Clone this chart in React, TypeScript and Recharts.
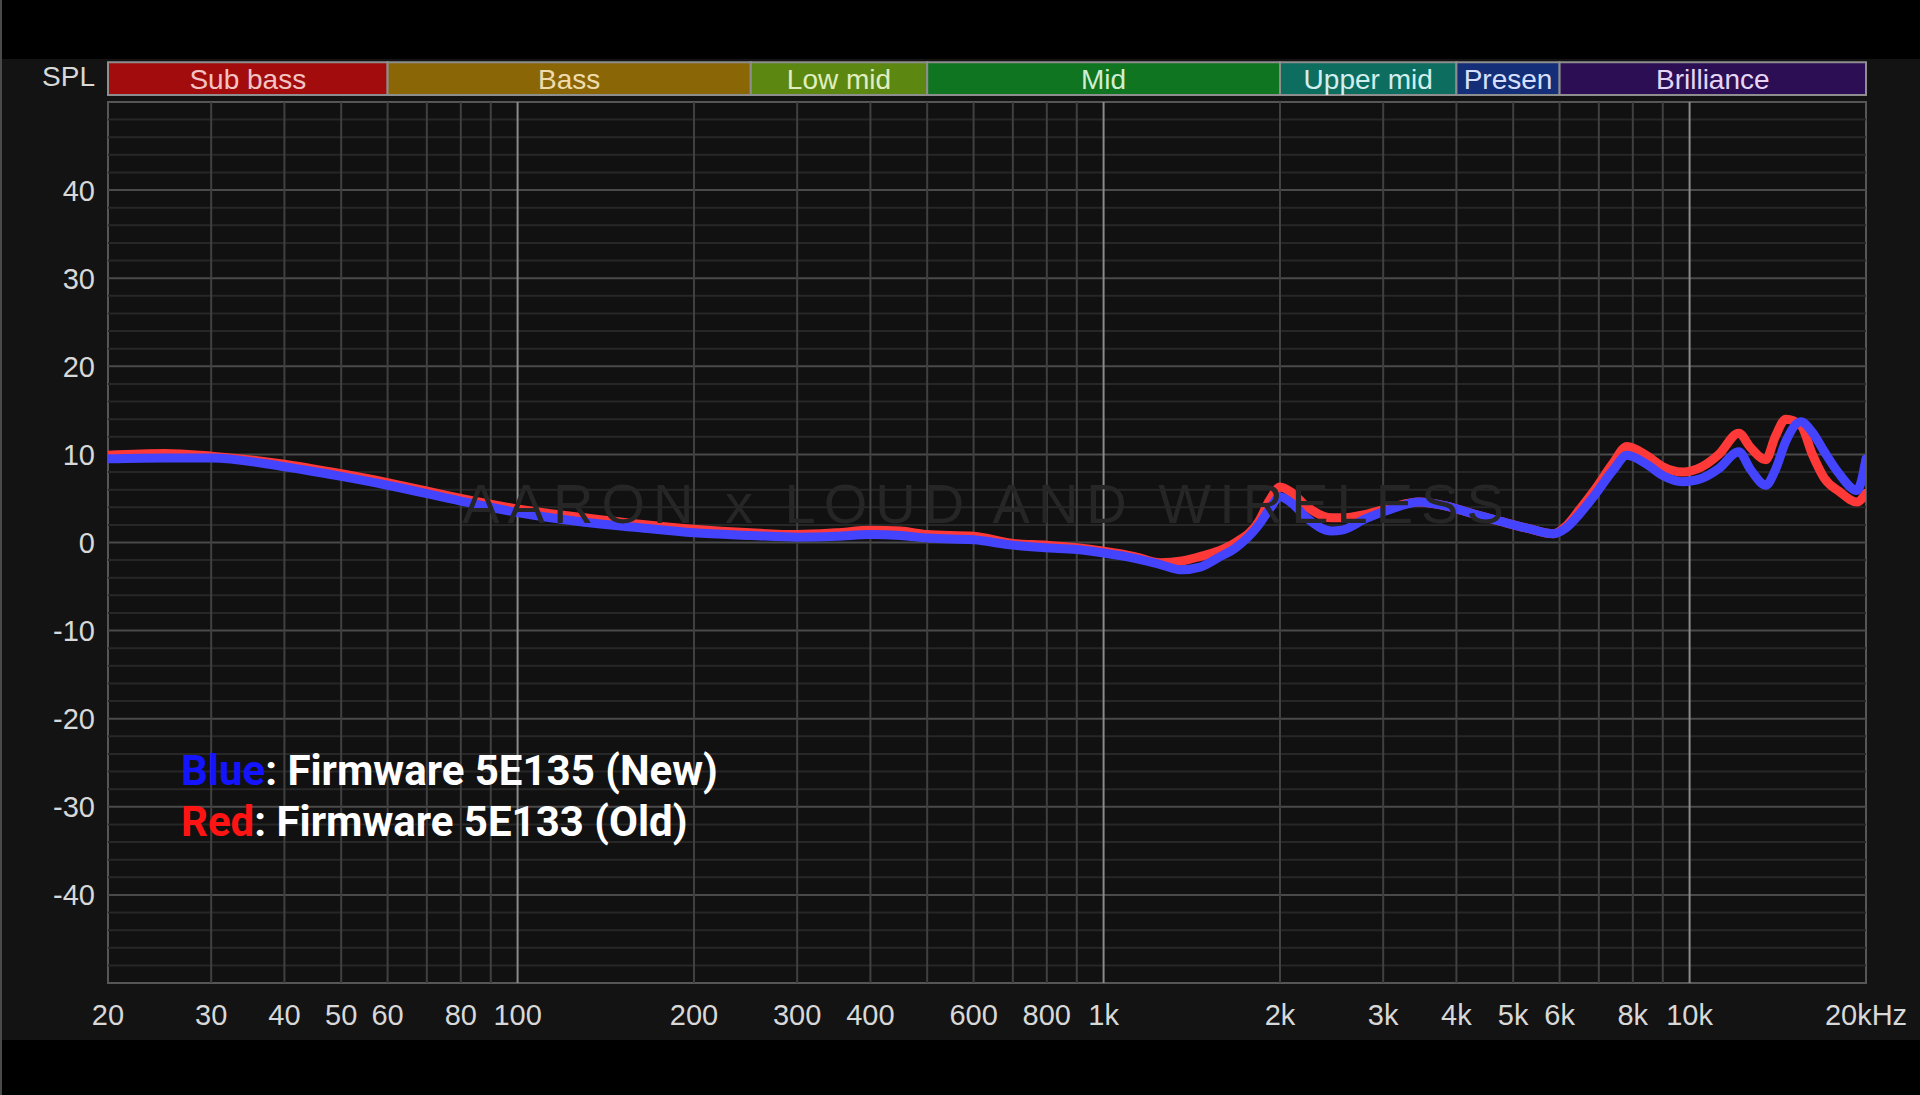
import { LineChart, Line, XAxis, YAxis, ReferenceLine, ReferenceArea } from 'recharts';

// frequency points (Hz), shared by both curves
const freqs = [
  20, 25, 30, 40, 50, 60, 80, 100, 130, 160, 200, 250, 300, 350, 400, 450, 500, 600, 700, 800, 900,
  1000, 1130, 1250, 1360, 1460, 1580, 1680, 1840, 1920, 2000, 2100, 2220, 2450, 2550, 2800, 3100, 3450,
  3860, 4300, 4760, 5300, 5860, 6140, 6500, 6890, 7400, 7820, 8480, 9000, 9730, 10500, 11220,
  12130, 12700, 13490, 14000, 14600, 15480, 16200, 16980, 18000, 19300, 20000,
];

// Firmware 5E135 (New)
const blueDb = [
  9.5, 9.6, 9.6, 8.6, 7.5, 6.5, 4.7, 3.4, 2.3, 1.7, 1.1, 0.8, 0.6, 0.7, 0.9, 0.8, 0.5, 0.3, -0.3, -0.6, -0.8,
  -1.2, -1.8, -2.5, -3.1, -2.8, -1.6, -0.6, 2.0, 3.8, 5.2, 4.4, 2.8, 1.3, 1.4, 2.7, 3.8, 4.6,
  4.1, 3.2, 2.4, 1.6, 1.0, 1.6, 3.3, 5.4, 8.2, 9.9, 8.8, 7.6, 6.9, 7.3, 8.4,
  10.3, 8.3, 6.5, 8.2, 11.5, 13.7, 12.5, 10.3, 7.8, 5.9, 9.5,
];

// Firmware 5E133 (Old)
const redDb = [
  9.9, 10.1, 9.8, 8.9, 7.8, 6.8, 5.0, 3.8, 2.8, 2.1, 1.5, 1.1, 0.9, 1.1, 1.4, 1.3, 0.9, 0.7, -0.1, -0.3, -0.6,
  -1.0, -1.6, -2.3, -2.1, -1.6, -0.9, 0.0, 2.4, 4.8, 6.3, 5.6, 4.1, 2.8, 2.8, 3.2, 4.0, 4.6,
  4.1, 3.2, 2.4, 1.6, 1.0, 1.8, 3.8, 6.0, 9.0, 10.9, 9.8, 8.6, 8.0, 8.6, 10.0,
  12.4, 10.8, 9.4, 12.0, 14.0, 13.3, 10.0, 7.3, 5.8, 4.6, 5.6,
];

const tickFreqs = [20, 30, 40, 50, 60, 80, 100, 200, 300, 400, 600, 800, 1000, 2000, 3000, 4000, 5000, 6000, 8000, 10000, 20000];
const tickLabels = ['20', '30', '40', '50', '60', '80', '100', '200', '300', '400', '600', '800', '1k', '2k', '3k', '4k', '5k', '6k', '8k', '10k', '20kHz'];

const gridFreqs = [
  30, 40, 50, 60, 70, 80, 90, 200, 300, 400, 500, 600, 700, 800, 900,
  2000, 3000, 4000, 5000, 6000, 7000, 8000, 9000,
];
const decadeFreqs = [100, 1000, 10000];

const dbTicks = [-40, -30, -20, -10, 0, 10, 20, 30, 40];
const minorDb = [
  -48, -46, -44, -42, -38, -36, -34, -32, -28, -26, -24, -22, -18, -16, -14, -12, -8, -6, -4, -2,
  2, 4, 6, 8, 12, 14, 16, 18, 22, 24, 26, 28, 32, 34, 36, 38, 42, 44, 46, 48,
];

const bandNames = ['Sub bass', 'Bass', 'Low mid', 'Mid', 'Upper mid', 'Presen', 'Brilliance'];
const bandEdges = [20, 60, 250, 500, 2000, 4000, 6000, 20000];
const bandFills = ['#a20c0c', '#8a6607', '#5c8812', '#107520', '#0d6d5f', '#142e78', '#2c0e55'];
const bandText = ['#f2c4c4', '#eedcae', '#e0eec0', '#d2eed2', '#d2eeee', '#d8e0ff', '#e6d6f6'];

const data = freqs.map((f, i) => ({ f, blue: blueDb[i], red: redDb[i] }));

const axisFont = '"Liberation Sans", Arial, sans-serif';

const XTick = (props: any) => {
  const { x, y, payload } = props;
  const i = tickFreqs.indexOf(payload.value);
  return (
    <text x={x} y={y + 42} textAnchor="middle" fill="#d8d8d8" fontSize={29} fontFamily={axisFont}>
      {tickLabels[i]}
    </text>
  );
};

const YTick = (props: any) => {
  const { x, y, payload } = props;
  return (
    <text x={x} y={y} dy="0.36em" textAnchor="end" fill="#d8d8d8" fontSize={29} fontFamily={axisFont}>
      {payload.value}
    </text>
  );
};

const App = () => {
  return (
    <div style={{ position: 'absolute', left: 0, top: 0, width: 1920, height: 1095, background: '#000', overflow: 'hidden' }}>
      <div style={{ position: 'absolute', left: 0, top: 0, width: 2, height: 1095, background: '#4a4a4a' }} />
      <div style={{ position: 'absolute', left: 2, top: 59, width: 1918, height: 981, background: '#131313' }} />
      <div
        style={{
          position: 'absolute', left: 0, top: 63, width: 95, textAlign: 'right',
          fontFamily: axisFont, fontSize: 28, lineHeight: '28px', color: '#d8d8d8',
        }}
      >
        SPL
      </div>

      <div style={{ position: 'absolute', left: 0, top: 0 }}>
        <LineChart width={1920} height={1095} data={data} margin={{ top: 102, right: 54, bottom: 72, left: 48 }}>
          <XAxis
            dataKey="f"
            type="number"
            scale="log"
            domain={[20, 20000]}
            ticks={tickFreqs}
            interval={0}
            allowDataOverflow
            axisLine={false}
            tickLine={false}
            tickSize={0}
            tickMargin={0}
            height={40}
            tick={<XTick />}
          />
          <YAxis
            type="number"
            domain={[-50, 50]}
            ticks={dbTicks}
            interval={0}
            allowDataOverflow
            axisLine={false}
            tickLine={false}
            tickSize={0}
            tickMargin={13}
            width={60}
            tick={<YTick />}
          />

          {/* plot background */}
          <ReferenceArea x1={20} x2={20000} y1={-50} y2={50} fill="#111111" fillOpacity={1} stroke="none" ifOverflow="visible" />

          {minorDb.map((v) => (
            <ReferenceLine key={'m' + v} y={v} stroke="#272727" strokeWidth={2} />
          ))}
          {dbTicks.map((v) => (
            <ReferenceLine key={'M' + v} y={v} stroke="#4a4a4a" strokeWidth={2} />
          ))}
          {gridFreqs.map((f) => (
            <ReferenceLine key={'g' + f} x={f} stroke="#404040" strokeWidth={2} />
          ))}
          {decadeFreqs.map((f) => (
            <ReferenceLine key={'d' + f} x={f} stroke="#8a8a8a" strokeWidth={2} />
          ))}

          {/* plot frame */}
          <ReferenceArea x1={20} x2={20000} y1={-50} y2={50} fill="none" stroke="#565656" strokeWidth={2} ifOverflow="visible" />

          {/* watermark */}
          <ReferenceArea
            x1={20}
            x2={20000}
            y1={-1}
            y2={10}
            fill="none"
            stroke="none"
            ifOverflow="visible"
            label={{
              value: 'AARON x LOUD AND WIRELESS',
              position: 'center',
              fill: '#262626',
              fontSize: 56,
              fontFamily: '"Liberation Sans", Arial, sans-serif',
              letterSpacing: 8,
            }}
          />

          {/* frequency band bar */}
          {bandNames.map((name, i) => (
            <ReferenceArea
              key={name}
              x1={bandEdges[i]}
              x2={bandEdges[i + 1]}
              y1={50.8}
              y2={54.5}
              fill={bandFills[i]}
              fillOpacity={1}
              stroke="#8e8e8e"
              strokeWidth={2}
              ifOverflow="visible"
              label={{ value: name, position: 'center', fill: bandText[i], fontSize: 28, fontFamily: axisFont }}
            />
          ))}

          <Line type="monotone" dataKey="red" stroke="#ff3838" strokeWidth={9} dot={false} isAnimationActive={false} strokeLinejoin="round" strokeLinecap="round" />
          <Line type="monotone" dataKey="blue" stroke="#4444ff" strokeWidth={9} dot={false} isAnimationActive={false} strokeLinejoin="round" strokeLinecap="round" />
        </LineChart>
      </div>

      <div
        style={{
          position: 'absolute', left: 181, top: 745, fontFamily: 'Roboto, "Noto Sans", sans-serif',
          fontWeight: 700, fontSize: 42, lineHeight: '51px', color: '#ffffff', whiteSpace: 'nowrap',
        }}
      >
        <div>
          <span style={{ color: '#1414ff' }}>Blue</span>: Firmware 5E135 (New)
        </div>
        <div>
          <span style={{ color: '#ff1414' }}>Red</span>: Firmware 5E133 (Old)
        </div>
      </div>
    </div>
  );
};

export default App;
